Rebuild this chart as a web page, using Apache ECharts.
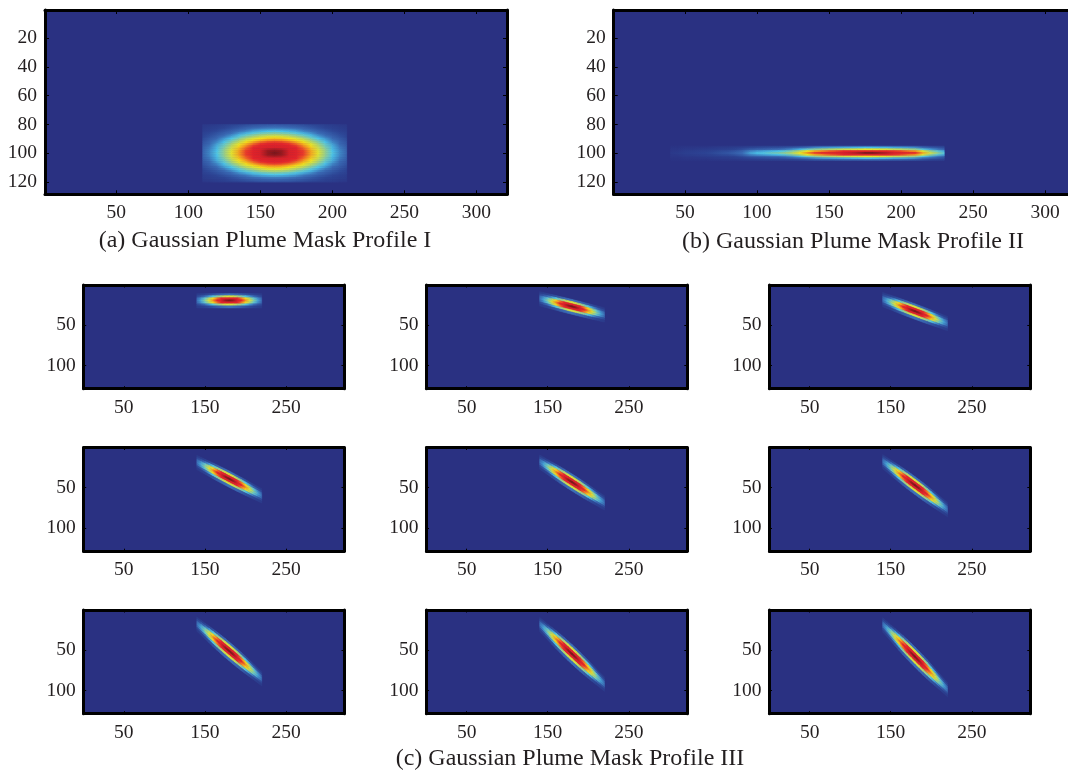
<!DOCTYPE html>
<html><head><meta charset="utf-8">
<style>html,body{margin:0;padding:0;background:#fff}#c{width:1068px;height:771px}</style>
<script src="https://cdn.jsdelivr.net/npm/echarts@6/dist/echarts.min.js"></script>
</head><body><div id="c"></div>
<script>
// ---- axis tick labels ----
const bigXTicks = [50,100,150,200,250,300];
const bigYTicks = [20,40,60,80,100,120];
const smallXTicks = [50,150,250];
const smallYTicks = [50,100];
const captions = ['(a) Gaussian Plume Mask Profile I','(b) Gaussian Plume Mask Profile II','(c) Gaussian Plume Mask Profile III'];

// ---- Profile I: mask intensity (0-100) at x columns / y rows ----
const profile1X = [110,115,120,125,130,135,140,145,150,155,160,165,170,175,180,185,190,195,200,205,210];
const profile1Y = [80,81.25,82.5,83.75,85,86.25,87.5,88.75,90,91.25,92.5,93.75,95,96.25,97.5,98.75,100,101.25,102.5,103.75,105,106.25,107.5,108.75,110,111.25,112.5,113.75,115,116.25,117.5,118.75,120];
const profile1Values = [
[4,5,7,8,10,12,14,15,17,17,18,17,17,15,14,12,10,8,7,5,4],
[5,6,8,10,13,15,17,19,20,21,22,21,20,19,17,15,13,10,8,6,5],
[6,8,10,12,15,18,21,23,25,26,26,26,25,23,21,18,15,12,10,8,6],
[7,9,12,15,18,22,25,28,30,31,32,31,30,28,25,22,18,15,12,9,7],
[8,11,14,18,22,26,29,33,35,37,38,37,35,33,29,26,22,18,14,11,8],
[10,13,17,21,25,30,34,38,41,43,44,43,41,38,34,30,25,21,17,13,10],
[11,15,19,24,29,35,40,44,48,50,51,50,48,44,40,35,29,24,19,15,11],
[12,17,22,27,33,39,45,50,54,57,58,57,54,50,45,39,33,27,22,17,12],
[14,19,24,31,37,44,51,56,61,64,65,64,61,56,51,44,37,31,24,19,14],
[15,21,27,34,41,49,56,62,67,71,72,71,67,62,56,49,41,34,27,21,15],
[17,23,29,37,45,53,61,68,74,77,78,77,74,68,61,53,45,37,29,23,17],
[18,24,32,40,49,58,66,74,79,83,84,83,79,74,66,58,49,40,32,24,18],
[19,26,34,42,52,61,70,78,84,88,90,88,84,78,70,61,52,42,34,26,19],
[20,27,35,44,54,64,74,82,88,93,94,93,88,82,74,64,54,44,35,27,20],
[21,28,36,46,56,66,76,85,91,96,97,96,91,85,76,66,56,46,36,28,21],
[21,29,37,47,57,68,78,86,93,98,99,98,93,86,78,68,57,47,37,29,21],
[22,29,38,47,58,68,78,87,94,98,100,98,94,87,78,68,58,47,38,29,22],
[21,29,37,47,57,68,78,86,93,98,99,98,93,86,78,68,57,47,37,29,21],
[21,28,36,46,56,66,76,85,91,96,97,96,91,85,76,66,56,46,36,28,21],
[20,27,35,44,54,64,74,82,88,93,94,93,88,82,74,64,54,44,35,27,20],
[19,26,34,42,52,61,70,78,84,88,90,88,84,78,70,61,52,42,34,26,19],
[18,24,32,40,49,58,66,74,79,83,84,83,79,74,66,58,49,40,32,24,18],
[17,23,29,37,45,53,61,68,74,77,78,77,74,68,61,53,45,37,29,23,17],
[15,21,27,34,41,49,56,62,67,71,72,71,67,62,56,49,41,34,27,21,15],
[14,19,24,31,37,44,51,56,61,64,65,64,61,56,51,44,37,31,24,19,14],
[12,17,22,27,33,39,45,50,54,57,58,57,54,50,45,39,33,27,22,17,12],
[11,15,19,24,29,35,40,44,48,50,51,50,48,44,40,35,29,24,19,15,11],
[10,13,17,21,25,30,34,38,41,43,44,43,41,38,34,30,25,21,17,13,10],
[8,11,14,18,22,26,29,33,35,37,38,37,35,33,29,26,22,18,14,11,8],
[7,9,12,15,18,22,25,28,30,31,32,31,30,28,25,22,18,15,12,9,7],
[6,8,10,12,15,18,21,23,25,26,26,26,25,23,21,18,15,12,10,8,6],
[5,6,8,10,13,15,17,19,20,21,22,21,20,19,17,15,13,10,8,6,5],
[4,5,7,8,10,12,14,15,17,17,18,17,17,15,14,12,10,8,7,5,4]
];

// ---- Profile II ----
const profile2X = [40,45,50,55,60,65,70,75,80,85,90,95,100,105,110,115,120,125,130,135,140,145,150,155,160,165,170,175,180,185,190,195,200,205,210,215,220,225,230];
const profile2Y = [95,96.25,97.5,98.75,100,101.25,102.5,103.75,105];
const profile2Values = [
[1,1,2,2,2,2,3,3,4,4,5,6,7,8,8,9,9,10,12,14,16,17,17,18,19,19,19,20,20,20,19,18,18,17,16,14,11,9,8],
[2,2,3,3,4,4,5,6,6,8,9,12,13,14,15,15,17,19,22,25,28,30,31,32,33,34,35,36,36,35,35,33,32,31,29,24,20,17,14],
[3,3,5,5,6,7,8,9,10,12,15,19,21,22,24,25,27,30,35,41,45,48,50,52,54,55,56,58,58,57,56,53,52,49,47,39,32,27,22],
[4,5,7,8,9,10,12,14,15,18,22,28,31,33,35,37,40,45,52,60,67,71,75,77,80,82,83,86,86,84,83,79,77,73,70,58,48,40,33],
[5,6,8,9,11,12,14,16,18,21,25,32,36,38,41,43,47,52,60,70,78,83,87,90,93,95,97,100,100,98,96,92,89,85,81,68,56,47,38],
[4,5,7,8,9,10,12,14,15,18,22,28,31,33,35,37,40,45,52,60,67,71,75,77,80,82,83,86,86,84,83,79,77,73,70,58,48,40,33],
[3,3,5,5,6,7,8,9,10,12,15,19,21,22,24,25,27,30,35,41,45,48,50,52,54,55,56,58,58,57,56,53,52,49,47,39,32,27,22],
[2,2,3,3,4,4,5,6,6,8,9,12,13,14,15,15,17,19,22,25,28,30,31,32,33,34,35,36,36,35,35,33,32,31,29,24,20,17,14],
[1,1,2,2,2,2,3,3,4,4,5,6,7,8,8,9,9,10,12,14,16,17,17,18,19,19,19,20,20,20,19,18,18,17,16,14,11,9,8]
];

// ---- Profile III: the plume cross-section, and where its centre line sits in each panel ----
const plumeX = [140,145,150,155,160,165,170,175,180,185,190,195,200,205,210,215,220];
const plumeOffsets = [-7.5,-5,-2.5,0,2.5,5,7.5];
const plumeValues = [
[6,8,11,14,17,20,23,25,26,25,23,20,17,14,11,8,6],
[13,18,25,31,38,45,50,55,56,55,50,45,38,31,25,18,13],
[21,30,40,51,62,73,82,87,89,87,82,73,62,51,40,30,21],
[24,33,45,57,70,82,91,98,100,98,91,82,70,57,45,33,24],
[21,30,40,51,62,73,82,87,89,87,82,73,62,51,40,30,21],
[13,18,25,31,38,45,50,55,56,55,50,45,38,31,25,18,13],
[6,8,11,14,17,20,23,25,26,25,23,20,17,14,11,8,6]
];
const centreC1 = [20,20,20,20,20,20,20,20,20,20,20,20,20,20,20,20,20];
const centreC2 = [17.5,18.8,20,21.3,22.5,23.8,25,26.3,27.5,28.8,30,31.3,32.5,33.8,35,36.3,37.5];
const centreC3 = [18.5,20.4,22.2,24.1,25.9,27.8,29.6,31.5,33.3,35.2,37,38.9,40.7,42.6,44.4,46.3,48.1];
const centreC4 = [19,21.6,24.2,26.7,29.3,31.9,34.5,37,39.6,42.2,44.8,47.3,49.9,52.5,55.1,57.6,60.2];
const centreC5 = [18.5,21.7,24.8,28,31.1,34.3,37.4,40.6,43.7,46.9,50,53.2,56.3,59.5,62.6,65.8,68.9];
const centreC6 = [18,21.7,25.4,29.1,32.8,36.5,40.2,43.9,47.6,51.3,55,58.7,62.4,66.1,69.8,73.5,77.2];
const centreC7 = [18,22.2,26.4,30.6,34.8,39,43.2,47.4,51.6,55.8,60,64.2,68.4,72.6,76.8,81,85.2];
const centreC8 = [18.5,23.1,27.7,32.3,36.9,41.5,46.1,50.7,55.3,59.9,64.5,69.1,73.7,78.3,82.9,87.5,92.1];
const centreC9 = [18.8,23.8,28.8,33.8,38.8,43.8,48.8,53.8,58.8,63.8,68.8,73.8,78.8,83.8,88.8,93.8,98.8];
// vertical spread of the cross-section along each column
const spreadC1 = [1,1,1,1,1,1,1,1,1,1,1,1,1,1,1,1,1];
const spreadC2 = [1,1.01,1.01,1.02,1.03,1.03,1.04,1.04,1.04,1.04,1.04,1.03,1.03,1.02,1.01,1.01,1];
const spreadC3 = [1,1.01,1.02,1.04,1.06,1.07,1.08,1.08,1.08,1.08,1.08,1.07,1.06,1.04,1.02,1.01,1];
const spreadC4 = [1,1.02,1.04,1.07,1.1,1.12,1.13,1.14,1.14,1.14,1.13,1.12,1.1,1.07,1.04,1.02,1];
const spreadC5 = [1,1.03,1.06,1.1,1.14,1.17,1.19,1.2,1.2,1.2,1.19,1.17,1.14,1.1,1.06,1.03,1];
const spreadC6 = [1,1.04,1.08,1.13,1.18,1.22,1.25,1.26,1.26,1.26,1.25,1.22,1.18,1.13,1.08,1.04,1];
const spreadC7 = [1,1.05,1.1,1.17,1.23,1.28,1.31,1.33,1.33,1.33,1.31,1.28,1.23,1.17,1.1,1.05,1];
const spreadC8 = [1,1.06,1.11,1.19,1.27,1.32,1.36,1.38,1.38,1.38,1.36,1.32,1.27,1.19,1.11,1.06,1];
const spreadC9 = [1,1.06,1.13,1.21,1.29,1.36,1.4,1.42,1.42,1.42,1.4,1.36,1.29,1.21,1.13,1.06,1];

// ---- colour scale ----
const colourStops = [[0,[42,49,130]],[12,[44,68,148]],[25,[58,108,182]],[37,[76,198,234]],[48,[160,208,130]],[60,[245,233,25]],[72,[245,130,32]],[80,[232,36,42]],[94,[215,32,40]],[100,[122,21,24]]];
function colour(v){
  for(let i=1;i<colourStops.length;i++){
    const a=colourStops[i-1],b=colourStops[i];
    if(v<=b[0]){const t=(v-a[0])/(b[0]-a[0]);
      return 'rgb('+a[1].map((c,k)=>Math.round(c+(b[1][k]-c)*t)).join(',')+')';}
  }
  return 'rgb(122,21,24)';
}

// One row per mesh cell: [x0, top0, bottom0, x1, top1, bottom1, v0, v1]
function gridCells(xs,ys,vals){
  const out=[];
  ys.forEach((y,r)=>{
    const top=r===0?y:(y+ys[r-1])/2, bot=r===ys.length-1?y:(y+ys[r+1])/2;
    for(let i=0;i<xs.length-1;i++) out.push([xs[i],top,bot,xs[i+1],top,bot,vals[r][i],vals[r][i+1]]);
  });
  return out;
}
function plumeCells(centre,spread){
  const out=[],h=1.25;
  plumeOffsets.forEach((d,r)=>{
    for(let i=0;i<plumeX.length-1;i++)
      out.push([plumeX[i],centre[i]+(d-h)*spread[i],centre[i]+(d+h)*spread[i],plumeX[i+1],centre[i+1]+(d-h)*spread[i+1],centre[i+1]+(d+h)*spread[i+1],plumeValues[r][i],plumeValues[r][i+1]]);
  });
  return out;
}
function renderCell(params,api){
  const v=i=>api.value(i);
  const p=[api.coord([v(0),v(1)]),api.coord([v(3),v(4)]),api.coord([v(3),v(5)]),api.coord([v(0),v(2)])];
  const g=new echarts.graphic.LinearGradient(0,0,1,0,[{offset:0,color:colour(v(6))},{offset:1,color:colour(v(7))}]);
  return {type:'polygon',silent:true,shape:{points:p},style:{fill:g,stroke:g,lineWidth:0.6}};
}

const serif='"Liberation Serif","Times New Roman",serif', ink='#231f20', base='rgb(42,49,130)';
const grid=[],xAxis=[],yAxis=[],series=[];
function axisCommon(ticks,len,lw){
  return {type:'value',splitLine:{show:false},
    axisLine:{show:true,onZero:false,lineStyle:{color:'#000',width:lw}},
    axisTick:{show:true,inside:true,length:len,customValues:ticks,lineStyle:{color:'#000',width:1}}};
}
function panel(box,xr,yr,xt,yt,len,cells){
  const g=grid.length;
  grid.push({left:box[0],top:box[1],width:box[2],height:box[3],outerBoundsMode:'none',show:true,backgroundColor:base,borderWidth:0});
  const lab=(t,m)=>({show:true,customValues:t,margin:m,color:ink,fontFamily:serif,fontSize:19.5});
  xAxis.push(Object.assign(axisCommon(xt,len,3),{gridIndex:g,min:xr[0],max:xr[1],position:'bottom',axisLabel:lab(xt,9)}));
  xAxis.push(Object.assign(axisCommon(xt,len,3),{gridIndex:g,min:xr[0],max:xr[1],position:'top',axisLabel:{show:false}}));
  yAxis.push(Object.assign(axisCommon(yt,len,3),{gridIndex:g,min:yr[0],max:yr[1],inverse:true,position:'left',axisLabel:lab(yt,8)}));
  yAxis.push(Object.assign(axisCommon(yt,len,3),{gridIndex:g,min:yr[0],max:yr[1],inverse:true,position:'right',axisLabel:{show:false}}));
  series.push({type:'custom',coordinateSystem:'cartesian2d',xAxisIndex:2*g,yAxisIndex:2*g,silent:true,animation:false,
    renderItem:renderCell,encode:{x:[0,3],y:[1,2]},data:cells});
}
panel([45,10,462,184.3],[0.5,321.3],[0.55,128.5],bigXTicks,bigYTicks,4,gridCells(profile1X,profile1Y,profile1Values));
panel([613.7,10,462,184.3],[0.5,321.3],[0.55,128.5],bigXTicks,bigYTicks,4,gridCells(profile2X,profile2Y,profile2Values));
const centres=[centreC1,centreC2,centreC3,centreC4,centreC5,centreC6,centreC7,centreC8,centreC9];
const spreads=[spreadC1,spreadC2,spreadC3,spreadC4,spreadC5,spreadC6,spreadC7,spreadC8,spreadC9];
const colLeft=[83.7,426.5,769.5],rowTop=[285,447.5,610];
centres.forEach((c,i)=>{
  panel([colLeft[i%3],rowTop[Math.floor(i/3)],260.3,103.7],[0.5,321.5],[0.5,128.5],smallXTicks,smallYTicks,2.5,plumeCells(c,spreads[i]));
});
const capStyle={color:ink,fontFamily:serif,fontSize:24,fontWeight:'normal'};
const title=[[265,229],[853,230],[570,747]].map((p,i)=>({text:captions[i],left:p[0],top:p[1],textAlign:'center',padding:0,textStyle:capStyle}));

const chart=echarts.init(document.getElementById('c'),null,{renderer:'canvas'});
chart.setOption({animation:false,backgroundColor:'#fff',tooltip:{show:false},title,grid,xAxis,yAxis,series});
</script></body></html>
